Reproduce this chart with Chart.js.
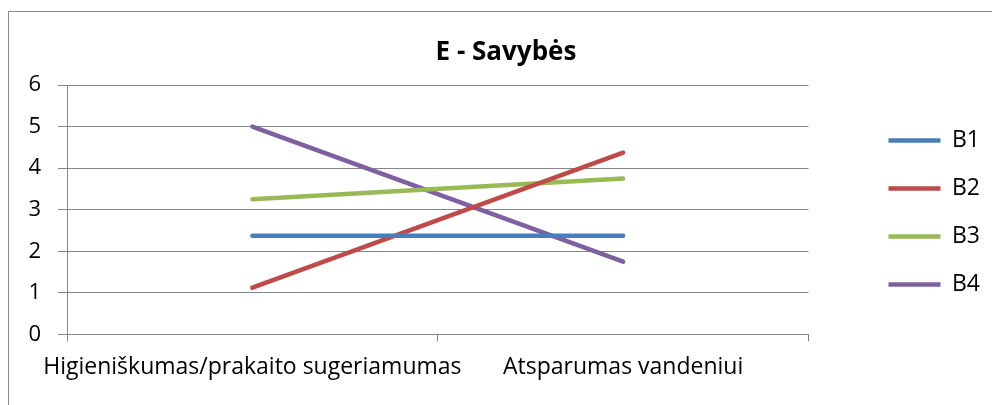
<!DOCTYPE html>
<html>
<head>
<meta charset="utf-8">
<script src="https://cdn.jsdelivr.net/npm/chart.js@4"></script>
<style>
  html, body { margin: 0; padding: 0; background: #fff; overflow: hidden; }
  #wrap { position: relative; width: 992px; height: 405px; }
  #frame { position: absolute; left: 8px; top: 11px; width: 1200px; height: 600px;
           border-left: 1px solid #8a8a8a; border-top: 1px solid #8a8a8a; pointer-events: none; }
</style>
</head>
<body>
<div id="wrap">
  <canvas id="chart"></canvas>
  <div id="frame"></div>
</div>
<script>
// ----- Données -----
const categories = ['Higieniškumas/prakaito sugeriamumas', 'Atsparumas vandeniui'];
const seriesNames = ['B1', 'B2', 'B3', 'B4'];
const valuesB1 = [2.375, 2.375];
const valuesB2 = [1.125, 4.375];
const valuesB3 = [3.25, 3.75];
const valuesB4 = [5, 1.75];
const colors = ['#4a7ebb', '#be4b48', '#98b954', '#7d60a0'];
const yTicks = [0, 1, 2, 3, 4, 5, 6];

const gridColor = '#868686';
Chart.defaults.font.family = '"Open Sans", sans-serif';
Chart.defaults.color = '#000';

const allValues = [valuesB1, valuesB2, valuesB3, valuesB4];
const datasets = seriesNames.map((name, i) => ({
  label: name,
  data: allValues[i],
  borderColor: colors[i],
  backgroundColor: colors[i],
  borderWidth: 4.5,
  borderCapStyle: 'round',
  pointRadius: 0,
  tension: 0,
  fill: false
}));

new Chart(document.getElementById('chart'), {
  type: 'line',
  data: { labels: categories, datasets },
  options: {
    responsive: true,
    maintainAspectRatio: false,
    animation: false,
    layout: { padding: { top: 32, bottom: 12, left: 22, right: 2 } },
    plugins: {
      title: {
        display: true,
        text: 'E - Savybės',
        font: { size: 26, weight: 'bold', lineHeight: 1 },
        color: '#000',
        padding: { top: 8, bottom: 19 }
      },
      legend: {
        position: 'right',
        labels: {
          usePointStyle: true,
          pointStyle: 'line',
          pointStyleWidth: 52,
          boxHeight: 4,
          padding: 25,
          font: { size: 23 }
        }
      },
      tooltip: { enabled: false }
    },
    scales: {
      x: {
        type: 'category',
        offset: true,
        grid: { offset: true, drawOnChartArea: false, drawTicks: true, tickLength: 7, color: gridColor },
        border: { display: true, color: gridColor },
        ticks: { padding: 12, font: { size: 23 }, maxRotation: 0, autoSkip: false }
      },
      y: {
        min: yTicks[0],
        max: yTicks[yTicks.length - 1],
        afterBuildTicks: (s) => { s.ticks = yTicks.map(v => ({ value: v })); },
        grid: { color: gridColor, tickLength: 9 },
        border: { display: true, color: gridColor },
        ticks: { padding: 17, font: { size: 22 } },
        afterFit: (s) => { s.width = 45; }
      },
      // espace vide entre la zone du graphe et la légende
      gap: {
        position: 'right',
        display: true,
        grid: { display: false },
        border: { display: false },
        ticks: { display: false },
        afterFit: (s) => { s.width = 55; }
      }
    }
  }
});
</script>
</body>
</html>
